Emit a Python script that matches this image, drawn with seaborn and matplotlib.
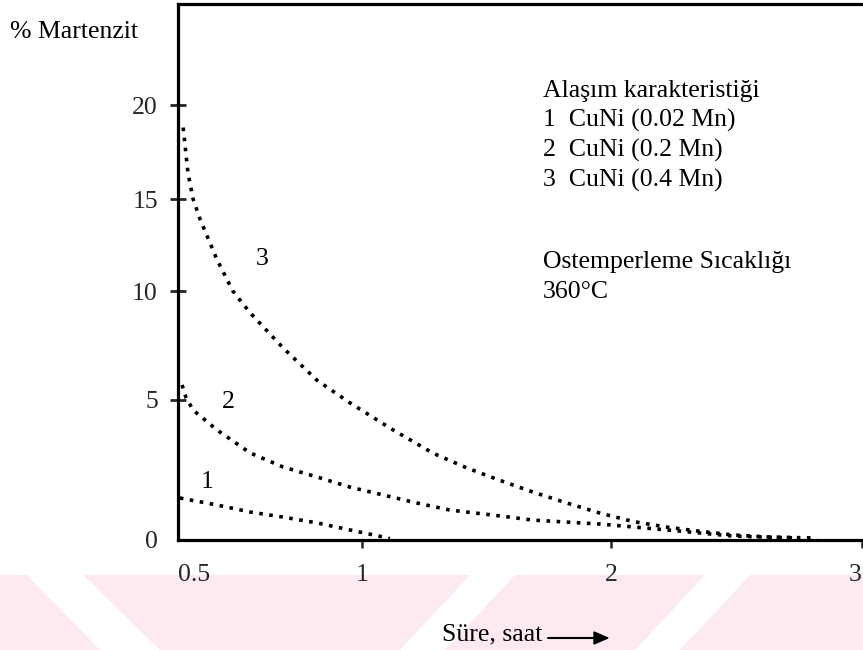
import numpy as np
import pandas as pd
import matplotlib
matplotlib.use("Agg")
import matplotlib.pyplot as plt
from matplotlib.patches import Polygon
import seaborn as sns

# ---------------- data ----------------
x1 = [0.505, 0.606, 0.696, 0.785, 0.878, 0.967, 1.084, 1.112]
y1 = [1.50, 1.25, 1.00, 0.82, 0.61, 0.36, 0.11, 0.05]

x2 = [0.511, 0.522, 0.541, 0.606, 0.696, 0.785, 0.878, 0.967, 1.084, 1.221,
      1.353, 1.554, 1.687, 1.956, 2.223, 2.486, 2.750]
y2 = [5.69, 5.10, 4.64, 3.93, 3.11, 2.61, 2.25, 1.89, 1.61, 1.32,
      1.07, 0.86, 0.71, 0.57, 0.36, 0.14, 0.07]

x3 = [0.514, 0.527, 0.541, 0.560, 0.606, 0.649, 0.696, 0.785, 0.878, 0.967,
      1.112, 1.285, 1.422, 1.554, 1.687, 1.823, 1.956, 2.088, 2.223, 2.355,
      2.486, 2.622, 2.821]
y3 = [18.8, 16.4, 15.0, 13.9, 11.7, 10.0, 9.0, 7.4, 5.9, 4.9,
      4.0, 3.1, 2.57, 2.13, 1.71, 1.32, 0.96, 0.66, 0.46, 0.31,
      0.18, 0.11, 0.07]

curve_labels = ["1", "2", "3"]
x_ticks = [0.5, 1, 2, 3]
x_tick_labels = ["0.5", "1", "2", "3"]
y_ticks = [0, 5, 10, 15, 20]
y_tick_labels = ["0", "5", "10", "15", "20"]
legend_title = "Alaşım karakteristiği"
legend_lines = ["1  CuNi (0.02 Mn)", "2  CuNi (0.2 Mn)", "3  CuNi (0.4 Mn)"]
temp_lines = ["Ostemperleme Sıcaklığı", "360°C"]
y_title = "% Martenzit"
x_title = "Süre, saat"

# ---------------- non-linear (hand-drawn) axis calibration ----------------
XV, XP = [0.5, 1.0, 2.0, 3.0], [178.0, 362.0, 611.0, 862.0]
YV, YP = [0.0, 5.0, 10.0, 15.0, 20.0], [-540.0, -400.0, -291.0, -199.0, -105.0]


def piecewise(v, src, dst):
    v = np.asarray(v, dtype=float)
    shape = v.shape
    v = np.atleast_1d(v).ravel()
    out = np.interp(v, src, dst)
    lo = v < src[0]
    hi = v > src[-1]
    out[lo] = dst[0] + (v[lo] - src[0]) * (dst[1] - dst[0]) / (src[1] - src[0])
    out[hi] = dst[-1] + (v[hi] - src[-1]) * (dst[-1] - dst[-2]) / (src[-1] - src[-2])
    return out.reshape(shape)


fx = lambda v: piecewise(v, XV, XP)
ix = lambda p: piecewise(p, XP, XV)
fy = lambda v: piecewise(v, YV, YP)
iy = lambda p: piecewise(p, YP, YV)

# ---------------- style ----------------
sns.set_style("white")
plt.rcParams["font.family"] = ["Liberation Serif", "DejaVu Serif"]
FS = 18.5

W, H = 863, 650
fig = plt.figure(figsize=(W / 100, H / 100), dpi=100)
fig.patch.set_facecolor("white")

# watermark stripes at the bottom
pink = "#fdeaee"
def fpt(px, py):
    return (px / W, 1 - py / H)
fig.add_artist(Polygon([fpt(0, 575), fpt(W, 575), fpt(W, H), fpt(0, H)],
                       closed=True, transform=fig.transFigure,
                       facecolor=pink, edgecolor="none", zorder=0))
bands = [((27, 83), (100, 160)), ((470, 515), (400, 445)), ((705, 750), (635, 680))]
for (t0, t1), (b0, b1) in bands:
    fig.add_artist(Polygon([fpt(t0, 575), fpt(t1, 575), fpt(b1, H), fpt(b0, H)],
                           closed=True, transform=fig.transFigure,
                           facecolor="white", edgecolor="none", zorder=0))

ax = fig.add_axes([178 / W, 1 - 540 / H, (W - 178) / W, (540 - 4) / H])
ax.set_facecolor("none")
ax.set_xscale("function", functions=(fx, ix))
ax.set_yscale("function", functions=(fy, iy))

dot = (0, (1.0, 1.8))
for xs, ys in [(x1, y1), (x2, y2), (x3, y3)]:
    sns.lineplot(x=xs, y=ys, ax=ax, color="black", linewidth=2.6,
                 linestyle=dot, sort=False, estimator=None)

ax.set_xlim(0.5, float(ix(863.0)))
ax.set_ylim(0, float(iy(-4.0)))

# spines
for s in ["left", "bottom", "top"]:
    ax.spines[s].set_visible(True)
    ax.spines[s].set_linewidth(2.3)
    ax.spines[s].set_color("black")
ax.spines["right"].set_visible(False)

ax.set_xticks(x_ticks)
ax.set_xticklabels(x_tick_labels, fontsize=FS)
ax.set_yticks(y_ticks)
ax.set_yticklabels(y_tick_labels, fontsize=FS)
ax.tick_params(axis="y", direction="inout", length=11, width=2.0, pad=9,
               left=True, right=False)
ax.tick_params(axis="x", direction="out", length=6, width=1.8, pad=11,
               bottom=True, top=False)
ax.yaxis.get_major_ticks()[0].tick1line.set_visible(False)
ax.xaxis.get_major_ticks()[0].tick1line.set_visible(False)
ax.get_xticklabels()[0].set_horizontalalignment("left")
ax.get_xticklabels()[-1].set_horizontalalignment("right")
ax.set_xlabel("")
ax.set_ylabel("")

# curve numbers
lab_x = [0.579, 0.636, 0.728]
lab_y = [1.86, 4.71, 11.41]
for t, lx, ly in zip(curve_labels, lab_x, lab_y):
    ax.text(lx, ly, t, fontsize=FS, ha="center", va="baseline", color="black")

# annotations in figure pixel positions
def ftext(px, py, s, **kw):
    fig.text(px / W, 1 - py / H, s, fontsize=FS, va="baseline", color="black", **kw)

ftext(10, 38, y_title)
ftext(543, 97, legend_title)
for i, s in enumerate(legend_lines):
    ftext(543, 127 + 30 * i, s)
ftext(543, 268, temp_lines[0])
ftext(543, 298, temp_lines[1])
ftext(442, 640, x_title)
fig.add_artist(plt.Line2D([548 / W, 596 / W], [1 - 638 / H, 1 - 638 / H],
                          transform=fig.transFigure, color="black", lw=1.5))
fig.add_artist(Polygon([fpt(594, 632), fpt(608, 638), fpt(594, 644)], closed=True,
                       transform=fig.transFigure, facecolor="black", edgecolor="black"))

fig.savefig("out.png", dpi=100)
